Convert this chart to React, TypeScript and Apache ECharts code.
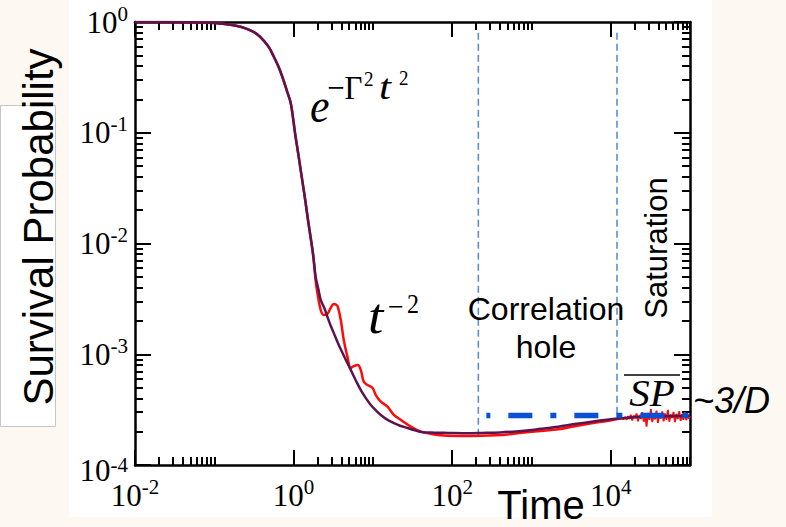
import React, { useEffect, useRef } from 'react';
import * as echarts from 'echarts';

// ---- data ----
const T_THEORY = [0.01, 0.05, 0.1, 0.16, 0.22, 0.29, 0.35, 0.42, 0.49, 0.56, 0.65, 0.75, 0.83, 0.92, 1.0, 1.06, 1.14, 1.23, 1.32, 1.42, 1.53, 1.64, 1.77, 1.9, 2.05, 2.2, 2.45, 2.67, 2.95, 3.21, 3.65, 4.13, 4.7, 5.27, 6.1, 7.05, 8.2, 9.43, 11, 12.6, 15, 18.4, 22, 27.5, 33, 40.5, 60, 88, 150, 233, 400, 815, 1300, 2178, 3500, 5745, 9000, 13770, 24660, 50000, 100000];
const P_THEORY = [1.0, 0.995, 0.978, 0.945, 0.9, 0.835, 0.77, 0.68, 0.59, 0.49, 0.39, 0.295, 0.235, 0.186, 0.125, 0.092, 0.066, 0.046, 0.033, 0.0232, 0.0158, 0.01145, 0.0079, 0.005, 0.0039, 0.0031, 0.0026, 0.00218, 0.0018, 0.00156, 0.00125, 0.00103, 0.00085, 0.00072, 0.00058, 0.000475, 0.0004, 0.000348, 0.00031, 0.000283, 0.000258, 0.000239, 0.000226, 0.000216, 0.000207, 0.000199, 0.000196, 0.000195, 0.000194, 0.000195, 0.000197, 0.000204, 0.000212, 0.000222, 0.000234, 0.000246, 0.000256, 0.000264, 0.000272, 0.000276, 0.000278];

const T_NUMERIC = [0.01, 0.05, 0.1, 0.16, 0.22, 0.29, 0.35, 0.42, 0.49, 0.56, 0.65, 0.75, 0.83, 0.92, 1.0, 1.06, 1.14, 1.23, 1.32, 1.42, 1.53, 1.64, 1.77, 1.9, 2.0, 2.2, 2.4, 2.67, 2.94, 3.21, 3.45, 3.61, 3.94, 4.3, 4.78, 5.27, 5.75, 6.46, 7.05, 7.69, 8.57, 9.91, 10.9, 12.6, 15.3, 18.4, 22.6, 30.3, 40.5, 65.9, 118, 233, 500, 815, 1300, 2178, 3500, 5745, 9000, 14000];
const P_NUMERIC = [1.0, 0.995, 0.978, 0.945, 0.9, 0.835, 0.77, 0.68, 0.59, 0.49, 0.39, 0.295, 0.235, 0.186, 0.125, 0.092, 0.066, 0.046, 0.033, 0.0232, 0.0158, 0.0113, 0.0076, 0.0046, 0.00357, 0.00251, 0.00226, 0.00231, 0.00262, 0.00284, 0.0028, 0.00269, 0.00204, 0.00134, 0.00095, 0.00075, 0.00078, 0.0008, 0.00072, 0.000565, 0.000527, 0.000496, 0.000428, 0.000373, 0.000336, 0.000283, 0.000255, 0.000222, 0.0002, 0.000187, 0.000183, 0.000184, 0.000189, 0.000197, 0.000203, 0.00021, 0.000224, 0.000238, 0.00025, 0.000264];

// fluctuating tail of the numerical curve (saturation region)
const T_SATURATION = [14000, 14600, 15200, 15900, 16500, 17200, 17900, 18700, 19500, 20300, 21200, 22100, 23000, 24000, 25000, 26100, 27200, 28300, 29500, 30800, 32100, 33400, 34800, 36300, 37800, 39400, 41100, 42800, 44600, 46500, 48500, 50500, 52600, 54800, 57100, 59500, 62000, 64600, 67300, 70200, 73100, 76200, 79400, 82700, 86200, 89800, 93600, 97500, 100000];
const P_SATURATION = [2.64e-4, 2.58e-4, 2.72e-4, 2.56e-4, 2.76e-4, 2.6e-4, 2.84e-4, 2.52e-4, 2.8e-4, 2.64e-4, 2.92e-4, 2.48e-4, 2.82e-4, 2.6e-4, 3.0e-4, 2.46e-4, 2.86e-4, 2.22e-4, 2.95e-4, 2.56e-4, 3.2e-4, 2.44e-4, 2.85e-4, 2.58e-4, 3.1e-4, 2.4e-4, 2.9e-4, 2.62e-4, 3.05e-4, 2.48e-4, 2.92e-4, 2.56e-4, 3.15e-4, 2.46e-4, 2.86e-4, 2.66e-4, 3.02e-4, 2.44e-4, 2.9e-4, 2.6e-4, 3.06e-4, 2.5e-4, 2.88e-4, 2.56e-4, 3.0e-4, 2.54e-4, 2.84e-4, 2.62e-4, 2.78e-4];

// region boundaries (vertical dashed lines)
const REGION_T = [214, 12000];
const REGION_TOP = 0.8;
const REGION_BOTTOM = [1.87e-4, 2.72e-4];

// saturation value SP ~ 3/D
const SP_LEVEL = 2.8e-4;
const SP_RANGE = [270, 100000];

// ticks
const X_MAJOR = [0.01, 1, 100, 10000];
const X_MINOR = [0.02, 0.03, 0.04, 0.05, 0.06, 0.07, 0.08, 0.09, 0.1, 2, 3, 4, 5, 6, 7, 8, 9, 10, 200, 300, 400, 500, 600, 700, 800, 900, 1000, 20000, 30000, 40000, 50000, 60000, 70000, 80000, 90000, 100000];
const Y_MAJOR = [1e-4, 1e-3, 1e-2, 1e-1, 1];
const Y_MINOR = [2e-4, 3e-4, 4e-4, 5e-4, 6e-4, 7e-4, 8e-4, 9e-4, 2e-3, 3e-3, 4e-3, 5e-3, 6e-3, 7e-3, 8e-3, 9e-3, 2e-2, 3e-2, 4e-2, 5e-2, 6e-2, 7e-2, 8e-2, 9e-2, 0.2, 0.3, 0.4, 0.5, 0.6, 0.7, 0.8, 0.9];

const SERIF = '"Liberation Serif", "Times New Roman", serif';
const SANS = '"Liberation Sans", Arial, sans-serif';

const zip = (a: number[], b: number[]) => a.map((v, i) => [v, b[i]]);
const lg = (a: number[]) => a.map((v) => Math.log10(v));

function tickAxis(kind: 'x' | 'y', pos: string, vals: number[], len: number, extra: any = {}) {
  const isX = kind === 'x';
  return {
    type: 'value',
    gridIndex: 0,
    position: pos,
    min: isX ? -2 : -4,
    max: isX ? 5 : 0,
    axisLine: { show: false, onZero: false },
    splitLine: { show: false },
    axisTick: { show: true, inside: true, length: len, customValues: lg(vals), lineStyle: { color: '#000', width: 2 } },
    axisLabel: { show: false },
    ...extra,
  };
}

const FRAME = { show: true, onZero: false, lineStyle: { color: '#000', width: 2.5 } };

const labelRich = {
  b: { fontFamily: SERIF, fontSize: 31, lineHeight: 38, color: '#000' },
  s: { fontFamily: SERIF, fontSize: 21, lineHeight: 21, verticalAlign: 'top', color: '#000' },
  b4: { fontFamily: SERIF, fontSize: 31, lineHeight: 34, color: '#000', padding: [10, 0, 0, 0] },
  s4: { fontFamily: SERIF, fontSize: 21, lineHeight: 21, verticalAlign: 'top', color: '#000', padding: [6, 0, 0, 0] },
};

function txt(text: string, x: number, y: number, font: string, opts: any = {}) {
  const align = opts.align || 'left';
  return {
    type: 'text',
    x,
    y,
    z: 20,
    rotation: opts.rotation || 0,
    scaleY: opts.scaleY || 1,
    scaleX: opts.scaleX || 1,
    style: {
      text,
      font,
      fill: opts.fill || '#000',
      align,
      textAlign: align,
      verticalAlign: 'middle',
      textVerticalAlign: 'middle',
    },
  };
}

export default function App() {
  const ref = useRef<HTMLDivElement>(null);
  useEffect(() => {
    if (!ref.current) return;
    const chart = echarts.init(ref.current, null, { renderer: 'svg' });
    const option: any = {
      animation: false,
      backgroundColor: '#fdf8f1',
      grid: { left: 135, top: 22, width: 555, height: 443, containLabel: false },
      xAxis: [
        {
          type: 'log', logBase: 10, min: 0.01, max: 100000, position: 'bottom',
          axisLine: FRAME,
          axisTick: { show: false }, axisLabel: { show: false }, splitLine: { show: false },
        },
        tickAxis('x', 'bottom', X_MAJOR, 15, {
          axisLabel: {
            show: true, customValues: lg(X_MAJOR), margin: 11, rich: labelRich,
            formatter: (v: number) => `{b|10}{s|${Math.round(v)}}`,
          },
        }),
        tickAxis('x', 'bottom', X_MINOR, 8),
        tickAxis('x', 'top', X_MAJOR, 15, { axisLine: FRAME }),
        tickAxis('x', 'top', X_MINOR, 8),
      ],
      yAxis: [
        {
          type: 'log', logBase: 10, min: 1e-4, max: 1, position: 'left',
          axisLine: FRAME,
          axisTick: { show: false }, axisLabel: { show: false }, splitLine: { show: false },
        },
        tickAxis('y', 'left', Y_MAJOR, 16, {
          axisLabel: {
            show: true, customValues: lg(Y_MAJOR), margin: 7, rich: labelRich, align: 'right',
            formatter: (v: number) => {
              const e = Math.round(v);
              return e === -4 ? `{b4|10}{s4|${e}}` : `{b|10}{s|${e}}`;
            },
          },
        }),
        tickAxis('y', 'left', Y_MINOR, 8),
        tickAxis('y', 'right', Y_MAJOR, 16, { axisLine: FRAME }),
        tickAxis('y', 'right', Y_MINOR, 8),
      ],
      series: [
        {
          type: 'line', name: 'numerical', xAxisIndex: 0, yAxisIndex: 0, data: zip(T_NUMERIC, P_NUMERIC),
          showSymbol: false, symbol: 'none', smooth: 0.35, z: 3,
          lineStyle: { color: '#ff0a0a', width: 2.5 },
        },
        {
          type: 'line', name: 'numerical-tail', xAxisIndex: 0, yAxisIndex: 0, data: zip(T_SATURATION, P_SATURATION),
          showSymbol: false, symbol: 'none', z: 3,
          lineStyle: { color: '#ff0a0a', width: 1.8 },
        },
        {
          type: 'line', name: 'theory', xAxisIndex: 0, yAxisIndex: 0, data: zip(T_THEORY, P_THEORY),
          showSymbol: false, symbol: 'none', smooth: 0.35, z: 4,
          lineStyle: { color: '#5a1450', width: 2.5 },
        },
        ...REGION_T.map((t, i) => ({
          type: 'line', name: 'region' + i, xAxisIndex: 0, yAxisIndex: 0,
          data: [[t, REGION_TOP], [t, REGION_BOTTOM[i]]],
          showSymbol: false, symbol: 'none', z: 2,
          lineStyle: { color: '#5a8fcf', width: 1.6, type: [7, 4] },
        })),
        {
          type: 'line', name: 'SP', xAxisIndex: 0, yAxisIndex: 0,
          data: [[SP_RANGE[0], SP_LEVEL], [SP_RANGE[1], SP_LEVEL]],
          showSymbol: false, symbol: 'none', z: 5,
          lineStyle: { color: '#0a50d4', width: 5.5, type: [24, 18, 6, 18], dashOffset: 44, cap: 'butt' },
        },
      ],
      graphic: {
        elements: [
          { type: 'rect', z: -10, shape: { x: 69, y: 0, width: 643, height: 517 }, style: { fill: '#ffffff' } },
          { type: 'rect', z: -10, shape: { x: 0.5, y: 105.5, width: 55, height: 321 }, style: { fill: '#ffffff', stroke: '#c6c6c6', lineWidth: 1 } },
          txt('Survival Probability', 38, 227, `42px ${SANS}`, { align: 'center', rotation: Math.PI / 2 }),
          txt('Time', 541, 505, `40px ${SANS}`, { align: 'center' }),
          // e^{-Γ²t²}
          txt('e', 310, 105, `italic 44px ${SERIF}`, { scaleY: 1.12 }),
          txt('\u2212\u0393', 327, 87, `31px ${SERIF}`, { scaleY: 1.1 }),
          txt('2', 364, 79, `19px ${SERIF}`, { scaleY: 1.15 }),
          txt('t', 379, 87, `italic 36px ${SERIF}`, { scaleY: 1.02, scaleX: 1.2 }),
          txt('2', 399, 78, `19px ${SERIF}`, { scaleY: 1.15 }),
          // t^{-2}
          txt('t', 368, 316, `italic 48px ${SERIF}`, { scaleY: 1.05, scaleX: 1.15 }),
          txt('\u2212', 388, 306, `28px ${SERIF}`),
          txt('2', 407, 304, `24px ${SERIF}`, { scaleY: 1.1 }),
          txt('Correlation', 546, 309, `32px ${SANS}`, { align: 'center' }),
          txt('hole', 546, 347, `32px ${SANS}`, { align: 'center' }),
          txt('Saturation', 656, 248, `31px ${SANS}`, { align: 'center', rotation: Math.PI / 2 }),
          txt('SP', 652, 394, `italic 38px ${SERIF}`, { align: 'center', scaleX: 1.08 }),
          { type: 'line', z: 20, shape: { x1: 624, y1: 375, x2: 680, y2: 375 }, style: { stroke: '#000', lineWidth: 1.5 } },
          txt('~3/D', 693, 400, `italic 36px ${SANS}`),
        ],
      },
    };
    chart.setOption(option);
    return () => chart.dispose();
  }, []);
  return <div ref={ref} style={{ position: 'fixed', left: 0, top: 0, width: 786, height: 527 }} />;
}
